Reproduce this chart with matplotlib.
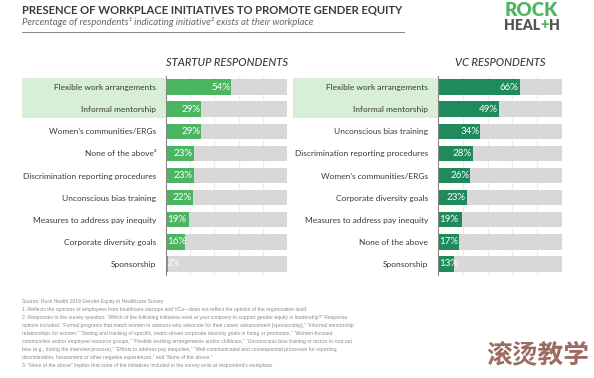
import matplotlib
matplotlib.use("Agg")
import matplotlib.pyplot as plt
from matplotlib.patches import Rectangle
from matplotlib.text import Annotation
from matplotlib.transforms import blended_transform_factory

plt.rcParams['font.family'] = ['Lato', 'DejaVu Sans']

startup_labels = ["Flexible work arrangements", "Informal mentorship", "Women's communities/ERGs",
                  "None of the above³", "Discrimination reporting procedures", "Unconscious bias training",
                  "Measures to address pay inequity", "Corporate diversity goals", "Sponsorship"]
startup_values = [54, 29, 29, 23, 23, 22, 19, 16, 2]

vc_labels = ["Flexible work arrangements", "Informal mentorship", "Unconscious bias training",
             "Discrimination reporting procedures", "Women's communities/ERGs", "Corporate diversity goals",
             "Measures to address pay inequity", "None of the above", "Sponsorship"]
vc_values = [66, 49, 34, 28, 26, 23, 19, 17, 13]

title = "PRESENCE OF WORKPLACE INITIATIVES TO PROMOTE GENDER EQUITY"
subtitle = "Percentage of respondents¹ indicating initiative² exists at their workplace"
footnotes = [
    "Source: Rock Health 2019 Gender Equity in Healthcare Survey",
    "1: Reflects the opinions of employees from healthcare startups and VCs\u2014does not reflect the opinion of the organization itself.",
    "2: Responses to the survey question: \u201cWhich of the following initiatives exist at your company to support gender equity in leadership?\u201d Response",
    "options included: \u201cFormal programs that match women to advisors who advocate for their career advancement [sponsorship],\u201d \u201cInformal mentorship",
    "relationships for women,\u201d \u201cSetting and tracking of specific, metric-driven corporate diversity goals in hiring or promotion,\u201d \u201cWomen-focused",
    "communities and/or employee resource groups,\u201d \u201cFlexible working arrangements and/or childcare,\u201d \u201cUnconscious bias training or tactics to root out",
    "bias (e.g., during the interview process),\u201d \u201cEfforts to address pay inequities,\u201d \u201cWell-communicated and consequential processes for reporting",
    "discrimination, harassment or other negative experiences,\u201d and \u201cNone of the above.\u201d",
    "3: \u201cNone of the above\u201d implies that none of the initiatives included in the survey exist at respondent\u2019s workplace.",
]

W, H = 594, 378
fig = plt.figure(figsize=(W / 100, H / 100), dpi=100)
fig.patch.set_facecolor('white')

TXT = '#3a3a3a'
GRAYBAR = '#d8d8d8'
BAND = '#d6efd6'


def panel(left_px, width_px, labels, values, color, header, band_left_px):
    top_px, bot_px = 76, 275
    ax = fig.add_axes([left_px / W, 1 - bot_px / H, width_px / W, (bot_px - top_px) / H])
    n = len(labels)
    ys = list(range(n))
    ax.barh(ys, [100] * n, height=0.7, color=GRAYBAR, zorder=2)
    ax.barh(ys, values, height=0.7, color=color, zorder=3)
    ax.set_xlim(0, 100)
    ax.set_ylim(n - 0.5, -0.5)
    for g in [20, 40, 60, 80]:
        ax.axvline(g, color='#ebebeb', lw=0.8, zorder=1)
    for s in ['top', 'right', 'bottom']:
        ax.spines[s].set_visible(False)
    ax.spines['left'].set_color('#888888')
    ax.spines['left'].set_linewidth(0.8)
    ax.spines['left'].set_zorder(5)
    ax.set_xticks([])
    ax.set_yticks(ys)
    ax.set_yticklabels(labels, fontsize=6.0, color=TXT)
    ax.tick_params(axis='y', length=0, pad=7)
    for y, v in zip(ys, values):
        if v >= 20:
            ax.text(v - 0.8, y, f"{v}%", ha='right', va='center', color='white', fontsize=7, zorder=4)
        else:
            ax.text(0.8, y, f"{v}%", ha='left', va='center', color='white', fontsize=7, zorder=4)
    tr = blended_transform_factory(fig.transFigure, ax.transData)
    band = Rectangle((band_left_px / W, -0.42), (left_px - band_left_px) / W, 1.84,
                     transform=tr, facecolor=BAND, edgecolor='none', clip_on=False)
    band.set_zorder(-1)
    fig.add_artist(band)
    fig.text((left_px + width_px / 2) / W, 1 - 62 / H, header, ha='center', va='center',
             fontsize=8.0, style='italic', color=TXT, fontweight='medium')
    return ax


panel(166, 121, startup_labels, startup_values, '#4cb562', "STARTUP RESPONDENTS", 22)
panel(438, 124, vc_labels, vc_values, '#1f8a5c', "VC RESPONDENTS", 293)

# Title block
fig.text(22 / W, 1 - 10 / H, title, ha='left', va='center', fontsize=8.1, fontweight='bold', color=TXT)
fig.text(22 / W, 1 - 22 / H, subtitle, ha='left', va='center', fontsize=6.9, style='italic', color='#666666')
fig.add_artist(plt.Line2D([22 / W, 404 / W], [1 - 32 / H, 1 - 32 / H], color='#888888', lw=0.7))

# Logo
fig.text(531 / W, 1 - 11 / H, "ROCK", ha='center', va='center', fontsize=13.5, fontweight='heavy',
         color='#4cb562')
t1 = fig.text(504 / W, 1 - 25 / H, "HEAL", ha='left', va='center', fontsize=10, fontweight='heavy',
              color='#555555')
t2 = Annotation("+", xy=(1, 0.5), xycoords=t1, xytext=(0.3, 0), textcoords='offset points',
                ha='left', va='center', fontsize=10.5, fontweight='heavy', color='#4cb562')
fig.add_artist(t2)
t3 = Annotation("H", xy=(1, 0.5), xycoords=t2, xytext=(0.3, 0), textcoords='offset points',
                ha='left', va='center', fontsize=10, fontweight='heavy', color='#555555')
fig.add_artist(t3)

# Footnotes
for i, line in enumerate(footnotes):
    fig.text(22 / W, 1 - (302 + i * 7.9) / H, line, ha='left', va='center', fontsize=3.65,
             color='#8a8a8a', family=['Liberation Sans Narrow', 'Liberation Sans', 'DejaVu Sans'])

# Watermark
fig.text(538 / W, 1 - 355 / H, "滚烫教学", ha='center', va='center', fontsize=18.5, fontweight='bold',
         color='#8a5446', alpha=0.85, family=['Noto Sans CJK SC', 'DejaVu Sans'])

fig.savefig("out.png", dpi=100, facecolor='white')
